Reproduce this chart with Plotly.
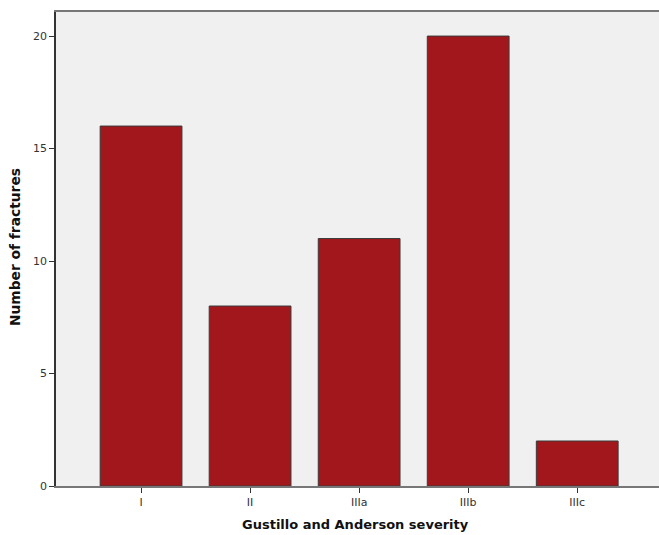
import plotly.graph_objects as go

categories = ["I", "II", "IIIa", "IIIb", "IIIc"]
counts = [16, 8, 11, 20, 2]
y_ticks = [0, 5, 10, 15, 20]

fig = go.Figure(go.Bar(
    x=list(range(len(categories))),
    y=counts,
    width=0.75,
    marker=dict(color="#a1171b", line=dict(color="#3a3a3a", width=1)),
))

fig.update_layout(
    width=659, height=535,
    margin=dict(l=56, r=0, t=12, b=49, autoexpand=False),
    paper_bgcolor="white",
    plot_bgcolor="#f0f0f0",
    showlegend=False,
    font=dict(family="DejaVu Sans", color="#222"),
    annotations=[
        dict(text="<b>Gustillo and Anderson severity</b>", xref="paper", yref="paper",
             x=(355 - 56) / 603, y=0, yshift=-38, xanchor="center", yanchor="middle",
             showarrow=False, font=dict(size=13, color="#111")),
        dict(text="<b>Number of fractures</b>", xref="paper", yref="paper",
             x=0, xshift=-41, y=(486 - 247) / 474, xanchor="center", yanchor="middle",
             textangle=-90, showarrow=False, font=dict(size=13.8, color="#111")),
    ],
)
fig.update_xaxes(
    range=[-0.78, 4.75],
    tickvals=list(range(len(categories))),
    ticktext=categories,
    ticks="outside", ticklen=5, tickcolor="#333",
    tickfont=dict(size=11, color="#333"),
    showline=True, linecolor="#777", linewidth=1.5, mirror=True,
    showgrid=False, zeroline=False, automargin=False,
)
fig.update_yaxes(
    range=[0, 21.07],
    tickvals=y_ticks,
    ticks="outside", ticklen=5, tickcolor="#333",
    tickfont=dict(size=11, color="#333"),
    showline=True, linecolor="#333", linewidth=1.5,
    showgrid=False, zeroline=False, automargin=False,
)

fig.write_html("out.html", config={"displayModeBar": False},
               post_script="document.body.style.margin='0';document.body.style.overflow='hidden';")
